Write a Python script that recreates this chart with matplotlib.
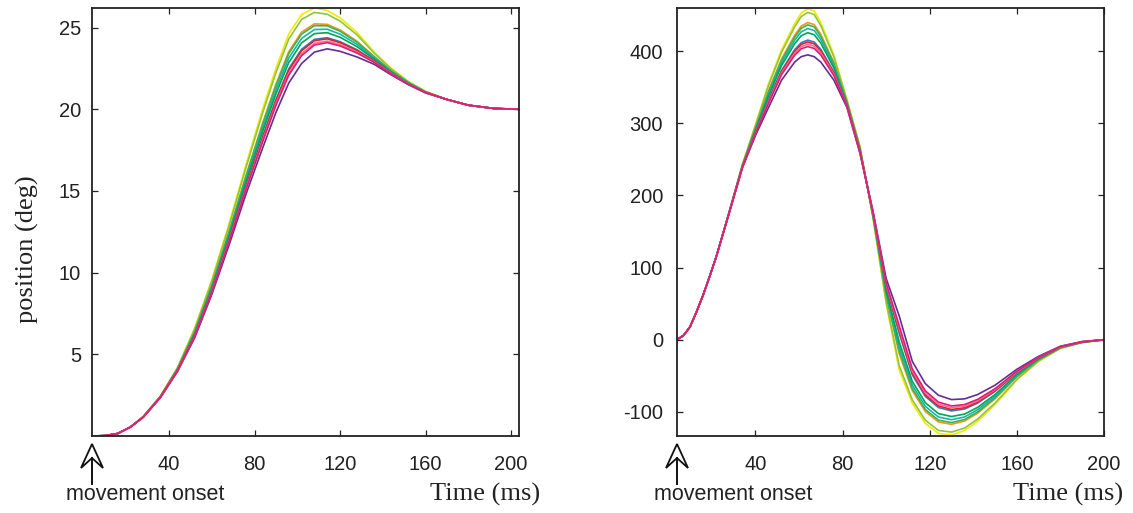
import numpy as np
import matplotlib
matplotlib.use("Agg")
import matplotlib.pyplot as plt
from matplotlib.patches import Polygon
from matplotlib.lines import Line2D

plt.rcParams['axes.unicode_minus'] = False

# ---- data ----
names = ['yellow', 'yellowgreen', 'orange', 'green', 'teal', 'green2',
         'blue', 'purple', 'red', 'pink', 'magenta']
colors = ['#f5e900', '#8dc63f', '#f7941d', '#39b54a', '#19b4b0', '#00a651',
          '#2e7bbf', '#662d91', '#ed1c24', '#f0709a', '#dd1c77']

# left panel: position (deg)
t_pos = [4, 10, 16, 22, 28, 36, 44, 52, 60, 68, 76, 84, 90, 96, 102, 108,
         114, 120, 128, 136, 144, 152, 160, 170, 180, 192, 204]
pos = {
    'yellow':      [0, 0.02, 0.15, 0.55, 1.20, 2.45, 4.20, 6.60, 9.55, 12.95, 16.60, 20.10, 22.50, 24.60, 25.80, 26.20, 26.05, 25.60, 24.70, 23.50, 22.50, 21.70, 21.10, 20.60, 20.25, 20.05, 20.0],
    'yellowgreen': [0, 0.02, 0.15, 0.55, 1.20, 2.44, 4.18, 6.54, 9.46, 12.82, 16.42, 19.86, 22.23, 24.30, 25.50, 25.93, 25.82, 25.40, 24.55, 23.43, 22.46, 21.68, 21.09, 20.60, 20.25, 20.05, 20.0],
    'orange':      [0, 0.02, 0.15, 0.55, 1.18, 2.41, 4.11, 6.38, 9.23, 12.48, 15.95, 19.24, 21.53, 23.52, 24.72, 25.23, 25.20, 24.86, 24.16, 23.23, 22.36, 21.63, 21.06, 20.60, 20.25, 20.05, 20.0],
    'green':       [0, 0.02, 0.15, 0.55, 1.18, 2.41, 4.10, 6.36, 9.19, 12.43, 15.88, 19.14, 21.42, 23.40, 24.60, 25.12, 25.11, 24.78, 24.10, 23.20, 22.34, 21.62, 21.06, 20.60, 20.25, 20.05, 20.0],
    'teal':        [0, 0.02, 0.15, 0.55, 1.18, 2.40, 4.08, 6.31, 9.11, 12.31, 15.72, 18.92, 21.18, 23.13, 24.33, 24.88, 24.90, 24.60, 23.97, 23.13, 22.30, 21.60, 21.05, 20.60, 20.25, 20.05, 20.0],
    'green2':      [0, 0.02, 0.15, 0.55, 1.17, 2.39, 4.06, 6.25, 9.03, 12.20, 15.56, 18.71, 20.93, 22.86, 24.06, 24.63, 24.69, 24.41, 23.83, 23.07, 22.27, 21.58, 21.04, 20.60, 20.25, 20.05, 20.0],
    'blue':        [0, 0.02, 0.15, 0.55, 1.16, 2.38, 4.02, 6.17, 8.91, 12.03, 15.32, 18.40, 20.58, 22.47, 23.67, 24.28, 24.38, 24.14, 23.64, 22.97, 22.22, 21.56, 21.03, 20.60, 20.25, 20.05, 20.0],
    'purple':      [0, 0.02, 0.15, 0.55, 1.15, 2.35, 3.95, 6.00, 8.65, 11.65, 14.80, 17.70, 19.80, 21.60, 22.80, 23.50, 23.70, 23.55, 23.20, 22.75, 22.10, 21.50, 21.00, 20.60, 20.25, 20.05, 20.0],
    'red':         [0, 0.02, 0.15, 0.55, 1.16, 2.38, 4.02, 6.16, 8.88, 11.99, 15.27, 18.32, 20.50, 22.38, 23.58, 24.20, 24.31, 24.08, 23.59, 22.95, 22.20, 21.55, 21.03, 20.60, 20.25, 20.05, 20.0],
    'pink':        [0, 0.02, 0.15, 0.55, 1.16, 2.37, 4.00, 6.12, 8.83, 11.91, 15.16, 18.18, 20.34, 22.20, 23.40, 24.04, 24.17, 23.96, 23.50, 22.90, 22.18, 21.54, 21.02, 20.60, 20.25, 20.05, 20.0],
    'magenta':     [0, 0.02, 0.15, 0.55, 1.16, 2.37, 3.99, 6.10, 8.79, 11.86, 15.09, 18.08, 20.23, 22.08, 23.28, 23.93, 24.08, 23.88, 23.44, 22.87, 22.16, 21.53, 21.02, 20.60, 20.25, 20.05, 20.0],
}

# right panel: velocity
t_vel = [4, 7, 10, 13, 16, 19, 22, 28, 34, 40, 46, 52, 58, 61, 64, 67, 70, 76,
         82, 88, 94, 100, 106, 112, 118, 124, 130, 136, 142, 150, 160, 170, 180,
         190, 200]
vel = {
    'yellow':      [0, 6, 18, 39, 62, 88, 115, 178, 243, 298, 355, 402, 438, 453, 459, 456, 440, 395, 333, 268, 168, 50, -42, -88, -116, -130, -132, -126, -113, -90, -56, -30, -12, -4, 0],
    'yellowgreen': [0, 6, 18, 39, 62, 88, 115, 177.8, 242.6, 296.8, 352.4, 398.6, 433.8, 448.2, 453.9, 450.9, 435.6, 392.2, 332.1, 267.2, 168.8, 52.8, -36, -83.4, -111.6, -125.8, -128.1, -122.5, -110, -87.8, -54.8, -29.4, -11.8, -3.9, 0],
    'orange':      [0, 6, 18, 39, 62, 88, 115, 177.4, 241.5, 293.5, 345.1, 389.4, 422.1, 434.9, 439.8, 437, 423.5, 384.5, 329.7, 265, 171, 60.5, -19.5, -70.6, -99.5, -114.1, -117.3, -112.8, -101.9, -81.9, -51.5, -27.9, -11.1, -3.6, 0],
    'green':       [0, 6, 18, 39, 62, 88, 115, 177.3, 241.3, 292.8, 343.5, 387.3, 419.5, 431.8, 436.6, 433.8, 420.8, 382.8, 329.2, 264.5, 171.5, 62.3, -15.8, -67.7, -96.8, -111.5, -114.9, -110.6, -100.1, -80.6, -50.8, -27.6, -11, -3.5, 0],
    'teal':        [0, 6, 18, 39, 62, 88, 115, 177.1, 240.9, 291.6, 340.8, 383.9, 415.2, 427, 431.5, 428.7, 416.4, 380, 328.3, 263.7, 172.3, 65, -9.8, -63.1, -92.4, -107.2, -110.9, -107.1, -97.1, -78.4, -49.6, -27, -10.7, -3.4, 0],
    'green2':      [0, 6, 18, 39, 62, 88, 115, 177, 240.4, 290.2, 337.8, 380.2, 410.4, 421.5, 425.7, 423, 411.4, 376.8, 327.3, 262.8, 173.2, 68.2, -3, -57.8, -87.4, -102.4, -106.5, -103.1, -93.8, -76, -48.2, -26.4, -10.4, -3.2, 0],
    'blue':        [0, 6, 18, 39, 62, 88, 115, 176.6, 239.6, 287.8, 332.6, 373.4, 402, 411.9, 415.5, 412.8, 402.6, 371.2, 325.5, 261.2, 174.8, 73.8, 9, -48.6, -78.6, -94, -98.7, -96.1, -87.8, -71.6, -45.8, -25.2, -10, -3, 0],
    'purple':      [0, 6, 18, 39, 62, 88, 115, 176, 238, 283, 322, 360, 385, 392.5, 395, 392.5, 385, 360, 322, 258, 178, 85, 33, -30, -61, -77, -83, -82, -76, -63, -41, -23, -9, -2.5, 0],
    'red':         [0, 6, 18, 39, 62, 88, 115, 176.6, 239.4, 287.2, 331.2, 371.8, 399.8, 409.4, 412.9, 410.3, 400.4, 369.8, 325.1, 260.8, 175.2, 75.2, 12, -46.2, -76.4, -91.8, -96.7, -94.3, -86.4, -70.6, -45.2, -25, -9.8, -2.9, 0],
    'pink':        [0, 6, 18, 39, 62, 88, 115, 176.5, 239.2, 286.5, 329.6, 369.7, 397.2, 406.4, 409.7, 407.1, 397.7, 368.1, 324.5, 260.3, 175.7, 77, 15.8, -43.3, -73.7, -89.2, -94.3, -92.1, -84.5, -69.2, -44.5, -24.6, -9.7, -2.8, 0],
    'magenta':     [0, 6, 18, 39, 62, 88, 115, 176.4, 238.9, 285.7, 327.9, 367.6, 394.5, 403.4, 406.5, 403.9, 394.9, 366.3, 324, 259.8, 176.2, 78.7, 19.5, -40.4, -70.9, -86.5, -91.8, -89.9, -82.7, -67.9, -43.7, -24.3, -9.5, -2.8, 0],
}

x_ticks = [40, 80, 120, 160, 200]
pos_ticks = [5, 10, 15, 20, 25]
vel_ticks = [-100, 0, 100, 200, 300, 400]

W, H = 1133, 513
fig = plt.figure(figsize=(W / 100, H / 100), dpi=100)

sans = ['Liberation Sans', 'DejaVu Sans']
serif = ['Liberation Serif', 'DejaVu Serif']


def px(x, y):
    return x / W, 1 - y / H


def style(ax, xlim, ylim, yticks, ypad):
    ax.set_xlim(*xlim)
    ax.set_ylim(*ylim)
    ax.set_xticks(x_ticks)
    ax.set_yticks(yticks)
    ax.tick_params(direction='in', top=True, right=True, length=4, width=0.9,
                   labelsize=14.5, color='#222222', labelcolor='#222222')
    ax.tick_params(axis='x', pad=14)
    ax.tick_params(axis='y', pad=ypad)
    for lab in ax.get_xticklabels() + ax.get_yticklabels():
        lab.set_family(sans)
    for s in ax.spines.values():
        s.set_linewidth(1.3)
        s.set_color('#222222')


def onset(x0):
    # outlined arrowhead plus shaft pointing at movement onset
    head = [px(x0, 444), px(x0 - 11, 468), px(x0, 458), px(x0 + 11, 468)]
    fig.patches.append(Polygon(head, closed=True, fill=False, ec='#111111',
                               lw=1.3, joinstyle='miter',
                               transform=fig.transFigure))
    a, b = px(x0, 458), px(x0, 484)
    fig.lines.append(Line2D([a[0], b[0]], [a[1], b[1]], color='#111111',
                            lw=1.4, transform=fig.transFigure))


axL = fig.add_axes([92 / W, 1 - 436 / H, 427 / W, 428 / H])
axR = fig.add_axes([677 / W, 1 - 436 / H, 427 / W, 428 / H])

for n, c in zip(names, colors):
    axL.plot(t_pos, pos[n], color=c, lw=1.2)
    axR.plot(t_vel, vel[n], color=c, lw=1.2)

style(axL, (4, 203.7), (0, 26.2), pos_ticks, 8)
style(axR, (4, 199.6), (-133.5, 460), vel_ticks, 10)

axL.set_ylabel('position (deg)', family=serif, fontsize=19, va='center',
               color='#222222')
axL.yaxis.set_label_coords(-0.152, 0.437)

for x0, tx in [(92, 145), (677, 733)]:
    onset(x0)
    fig.text(*px(tx, 494), 'movement onset', family=sans, fontsize=15.5,
             ha='center', va='center', color='#222222')
fig.text(*px(485, 494), 'Time (ms)', family=serif, fontsize=19,
         ha='center', va='center', color='#222222')
fig.text(*px(1068, 494), 'Time (ms)', family=serif, fontsize=19,
         ha='center', va='center', color='#222222')

fig.savefig('out.png', dpi=100)
